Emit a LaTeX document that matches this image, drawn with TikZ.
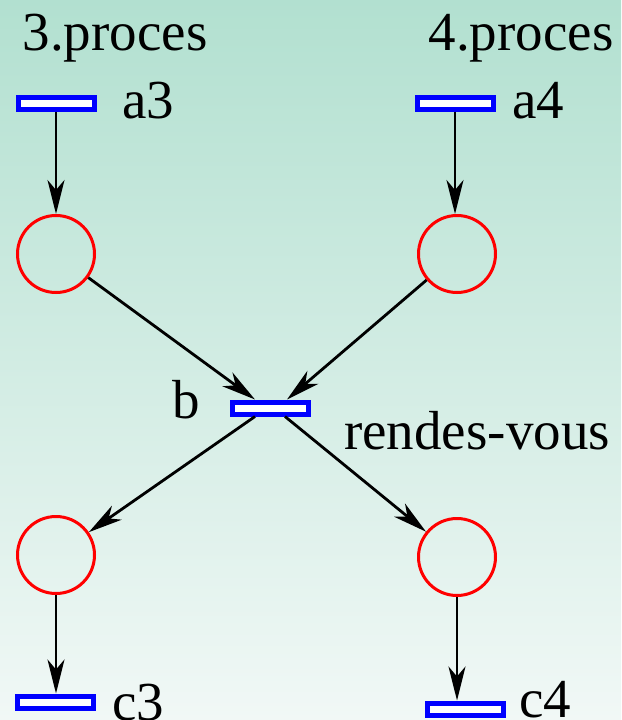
\documentclass[tikz,border=0pt]{standalone}
\usepackage{fontspec}
\setmainfont{Liberation Serif}
\usetikzlibrary{arrows.meta,calc}

\definecolor{bgtop}{RGB}{178,224,208}
\definecolor{bgbot}{RGB}{241,248,246}

\begin{document}
\begin{tikzpicture}[x=1pt,y=-1pt,
  trans/.style={draw=blue,line width=5pt,fill=white,minimum width=76pt,minimum height=12pt,inner sep=0pt},
  place/.style={circle,draw=red,line width=3pt,minimum size=77pt,inner sep=0pt},
  arr/.style={line width=2.8pt,-{Stealth[length=34pt,width=17pt,inset=10pt]}},
  lbl/.style={font=\fontsize{55}{60}\selectfont,inner sep=0pt,anchor=base}]
\useasboundingbox (0,0) rectangle (621,720);
\clip (0,0) rectangle (621,720);
\shade[top color=bgtop,bottom color=bgbot] (0,0) rectangle (621,720);
% process titles
\node[lbl] (t3) at (115,50) {3.proces};
\node[lbl] (t4) at (521,50) {4.proces};
% transitions
\node[trans] (a3) at (56,103) {};
\node[trans] (a4) at (455,103) {};
\node[trans] (b) at (270,408) {};
\node[trans] (c3) at (55,702) {};
\node[trans] (c4) at (465,709) {};
\node[lbl,anchor=base west] (la3) at (122,118) {a3};
\node[lbl,anchor=base west] (la4) at (512,118) {a4};
\node[lbl,anchor=base west] (lb) at (172,418) {b};
\node[lbl,anchor=base west] (lrv) at (344,449) {rendes-vous};
\node[lbl,anchor=base west] (lc3) at (112,720) {c3};
\node[lbl,anchor=base west] (lc4) at (519,717) {c4};
% places
\node[place] (p3in) at (56,254) {};
\node[place] (p4in) at (457,254) {};
\node[place] (p3out) at (56,555) {};
\node[place] (p4out) at (457,557) {};
% arcs
\draw[arr] (a3.south) -- (p3in.north);
\draw[arr] (a4.south) -- (a4.south |- p4in.north);
\draw[arr] (p3in) -- ($(b.north)+(-15,0)$);
\draw[arr] (p4in) -- ($(b.north)+(17,0)$);
\draw[arr] ($(b.south)+(-15,0)$) -- (p3out);
\draw[arr] ($(b.south)+(15,0)$) -- (p4out);
\draw[arr] (p3out.south) -- (p3out.south |- c3.north);
\draw[arr] (p4out.south) -- (p4out.south |- c4.north);
\end{tikzpicture}
\end{document}
